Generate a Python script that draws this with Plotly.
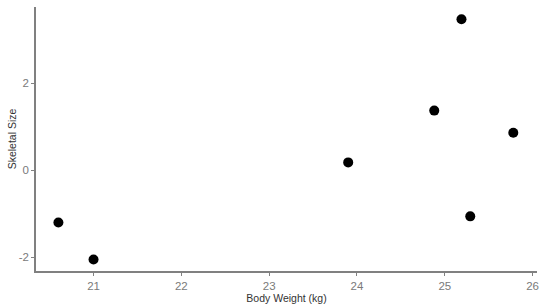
import plotly.graph_objects as go

body_weight = [20.6, 21.0, 23.9, 24.88, 25.19, 25.29, 25.78]
skeletal_size = [-1.2, -2.05, 0.18, 1.37, 3.47, -1.06, 0.86]

x_ticks = [21, 22, 23, 24, 25, 26]
y_ticks = [-2, 0, 2]
y_tick_labels = ["-2", "0", "2"]

fig = go.Figure()
fig.add_trace(go.Scatter(
    x=body_weight, y=skeletal_size, mode="markers",
    marker=dict(color="black", size=10),
))

axis_style = dict(
    showgrid=False, zeroline=False, showline=True,
    linecolor="#808080", linewidth=1.5,
    ticks="outside", ticklen=3, tickwidth=1, tickcolor="#808080",
    tickfont=dict(family="Liberation Sans, Arial", size=11.5, color="#7a7a7a"),
    automargin=False,
)

fig.update_layout(
    width=550, height=307,
    paper_bgcolor="white", plot_bgcolor="white",
    showlegend=False,
    margin=dict(l=36, r=13, t=7, b=36, pad=0, autoexpand=False),
    xaxis=dict(
        range=[20.345, 26.05], tickvals=x_ticks,
        title=dict(text="Body Weight (kg)", standoff=2,
                   font=dict(family="Liberation Sans, Arial", size=10.5, color="#333333")),
        **axis_style,
    ),
    yaxis=dict(
        range=[-2.315, 3.75], tickvals=y_ticks, ticktext=y_tick_labels,
        title=dict(text="Skeletal Size", standoff=0,
                   font=dict(family="Liberation Sans, Arial", size=10.5, color="#333333")),
        **axis_style,
    ),
)

# the page body has a default 8px margin; drop it so the figure fills the window
fig.write_html("out.html", config={"displayModeBar": False},
               post_script="document.body.style.margin='0';")
